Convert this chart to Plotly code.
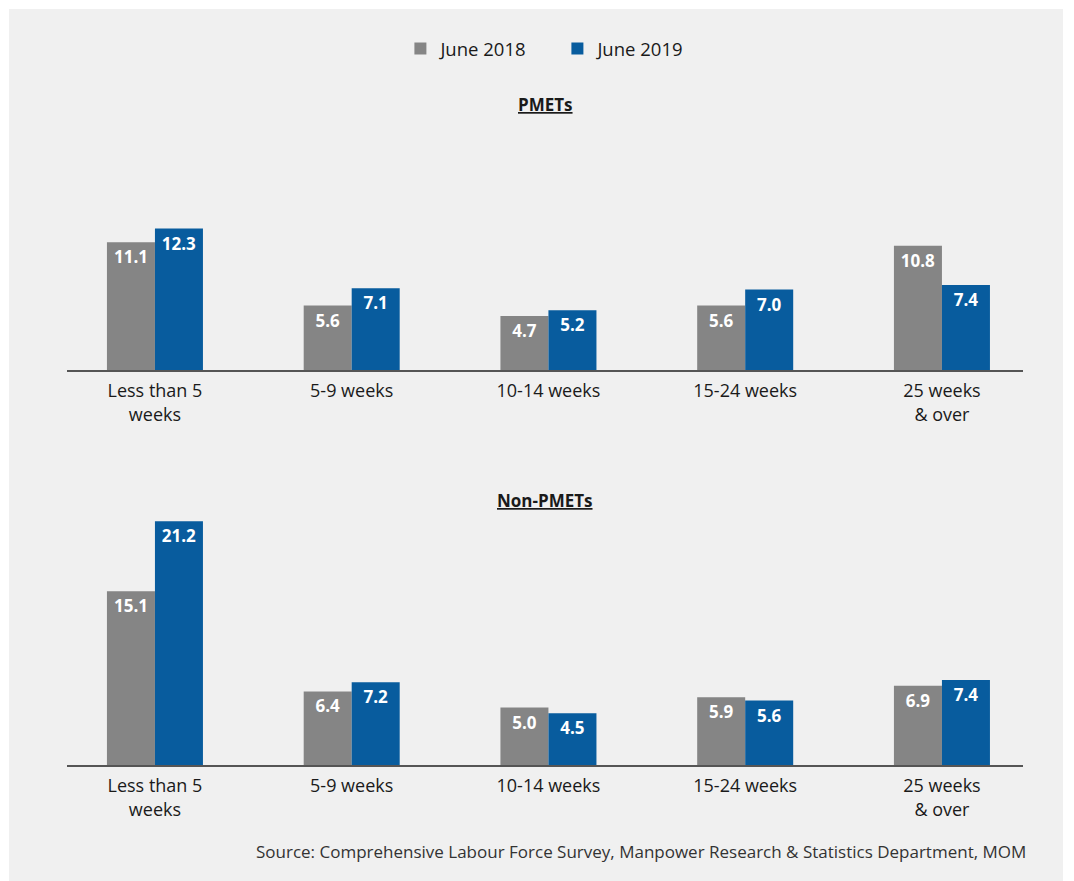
import plotly.graph_objects as go

W, H = 1074, 881

categories = ["Less than 5<br>weeks", "5-9 weeks", "10-14 weeks", "15-24 weeks", "25 weeks<br>& over"]
series_names = ["June 2018", "June 2019"]
pmets_2018 = [11.1, 5.6, 4.7, 5.6, 10.8]
pmets_2019 = [12.3, 7.1, 5.2, 7.0, 7.4]
non_pmets_2018 = [15.1, 6.4, 5.0, 5.9, 6.9]
non_pmets_2019 = [21.2, 7.2, 4.5, 5.6, 7.4]

colors = ["#858585", "#085c9e"]
FONT = "Open Sans"
PX_PER_UNIT = 11.5  # vertical scale shared by both panels


def py(px):
    return 1 - px / H


def px_(x):
    return x / W


fig = go.Figure()

panels = [
    ("x", "y", [pmets_2018, pmets_2019], True),
    ("x2", "y2", [non_pmets_2018, non_pmets_2019], False),
]
for xa, ya, vals, show in panels:
    for name, v, c in zip(series_names, vals, colors):
        fig.add_trace(go.Bar(
            x=categories, y=v, name=name, xaxis=xa, yaxis=ya,
            marker=dict(color=c, line=dict(width=0)),
            text=[f"{t:.1f}" for t in v], texttemplate="%{text}",
            textposition="inside", insidetextanchor="end",
            textfont=dict(family=FONT, size=17, color="white", weight="bold"),
            constraintext="none", cliponaxis=False,
            showlegend=show, legendgroup=name, offsetgroup=name,
        ))

# axis geometry
x_dom = [px_(67), px_(1023)]
x_rng = [-0.447, 4.412]
top_base, top_top = 370, 130
bot_base, bot_top = 765, 505

xaxis_common = dict(
    type="category", range=x_rng, domain=x_dom, showgrid=False, zeroline=False,
    showline=True, linecolor="#555555", linewidth=1.5, ticks="", fixedrange=True,
    tickfont=dict(family=FONT, size=18, color="#1a1a1a"), ticklabelstandoff=4,
)
yaxis_common = dict(visible=False, showgrid=False, zeroline=False, fixedrange=True)

fig.update_layout(
    width=W, height=H,
    margin=dict(l=0, r=0, t=0, b=0),
    paper_bgcolor="white", plot_bgcolor="rgba(0,0,0,0)",
    barmode="group", bargap=0.512, bargroupgap=0,
    font=dict(family=FONT, color="#1a1a1a"),
    xaxis=dict(**xaxis_common, anchor="y"),
    xaxis2=dict(**xaxis_common, anchor="y2"),
    yaxis=dict(**yaxis_common, domain=[py(top_base), py(top_top)],
               range=[0, (top_base - top_top) / PX_PER_UNIT]),
    yaxis2=dict(**yaxis_common, domain=[py(bot_base), py(bot_top)],
                range=[0, (bot_base - bot_top) / PX_PER_UNIT]),
    legend=dict(orientation="h", x=0.519, xanchor="center", y=py(49), yanchor="middle",
                font=dict(family=FONT, size=18.5, color="#1a1a1a"),
                bgcolor="rgba(0,0,0,0)", itemwidth=30, tracegroupgap=0,
                entrywidth=112, entrywidthmode="pixels"),
    shapes=[dict(type="rect", xref="paper", yref="paper",
                 x0=px_(9), x1=px_(1063), y0=0, y1=py(9),
                 fillcolor="#f0f0f0", line=dict(width=0), layer="below")],
    annotations=[
        dict(text="<b><u>PMETs</u></b>", xref="paper", yref="paper",
             x=px_(545), y=py(104), yanchor="middle", showarrow=False,
             font=dict(family=FONT, size=17, color="#1a1a1a")),
        dict(text="<b><u>Non-PMETs</u></b>", xref="paper", yref="paper",
             x=px_(545), y=py(500), yanchor="middle", showarrow=False,
             font=dict(family=FONT, size=17, color="#1a1a1a")),
        dict(text="Source: Comprehensive Labour Force Survey, Manpower Research & Statistics Department, MOM",
             xref="paper", yref="paper", x=px_(1028), y=py(851), xanchor="right",
             yanchor="middle", showarrow=False,
             font=dict(family=FONT, size=17, color="#333333")),
    ],
)

fig.write_html("out.html")
